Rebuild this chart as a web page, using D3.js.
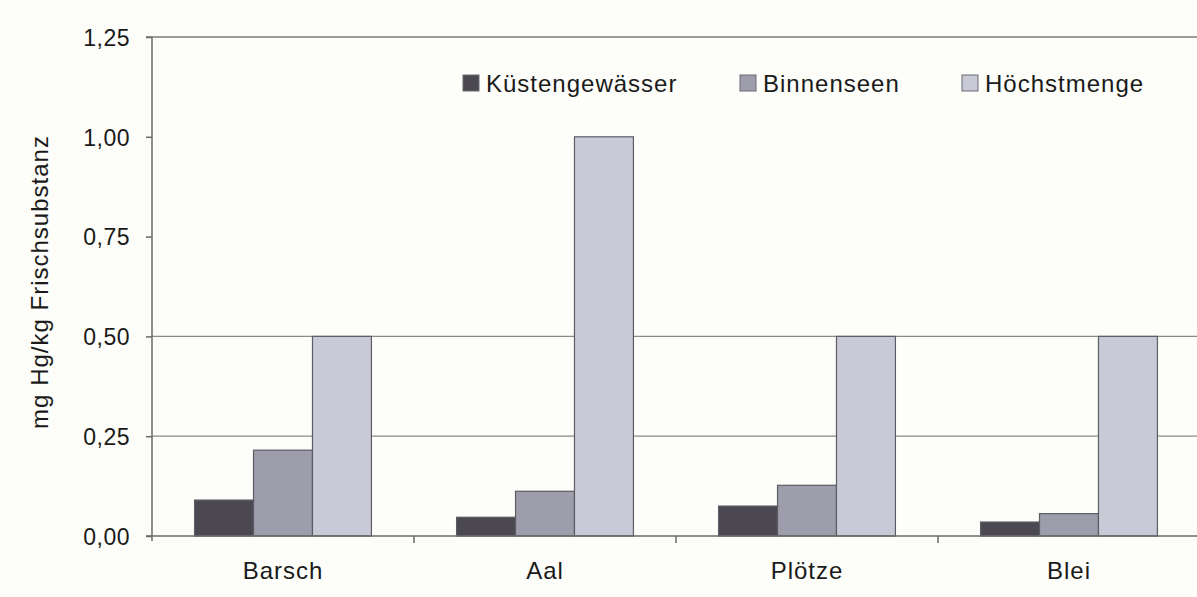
<!DOCTYPE html>
<html lang="de">
<head>
  <meta charset="utf-8">
  <title>Quecksilber in Fischen</title>
  <script src="https://cdn.jsdelivr.net/npm/d3@7"></script>
  <style>
    body {
      margin: 0;
      background: #fdfdf9;
      overflow: hidden;
    }

    text {
      font-family: "Liberation Sans", Arial, sans-serif;
      fill: #1a1a1a;
      letter-spacing: 1px;
    }

    .grid line {
      stroke: #8a8a8a;
      stroke-width: 1.2px;
    }

    .axis path, .axis line {
      stroke: #6a6a6a;
      stroke-width: 1.5px;
    }
  </style>
</head>
<body>
  <svg width="1197" height="597"></svg>
  <script>

  // data
  var fische = ["Barsch", "Aal", "Plötze", "Blei"];
  var serien = ["Küstengewässer", "Binnenseen", "Höchstmenge"];
  var kuestengewaesser = [0.09, 0.047, 0.075, 0.035];
  var binnenseen = [0.215, 0.112, 0.127, 0.056];
  var hoechstmenge = [0.5, 1.0, 0.5, 0.5];
  var yTicks = [0, 0.25, 0.5, 0.75, 1.0, 1.25];
  var gridTicks = [0.25, 0.5];
  var farben = ["#4b4852", "#9e9dac", "#c9cad7"];

  var werte = [kuestengewaesser, binnenseen, hoechstmenge];

  var svg = d3.select("svg"),
      plotLeft = 152, plotRight = 1200,
      plotTop = 37, plotBottom = 536;

  var x = d3.scaleBand()
      .domain(fische)
      .range([plotLeft, plotRight]);

  var x1 = d3.scaleBand()
      .domain(serien)
      .range([0, x.bandwidth() * 0.675]);

  var y = d3.scaleLinear()
      .domain([0, 1.25])
      .range([plotBottom, plotTop]);

  var fmt = function(d) { return d3.format(".2f")(d).replace(".", ","); };

  // gridlines (only the ones visible in the scan)
  svg.append("g")
      .attr("class", "grid")
    .selectAll("line")
    .data(gridTicks)
    .enter().append("line")
      .attr("x1", plotLeft)
      .attr("x2", plotRight)
      .attr("y1", function(d) { return y(d); })
      .attr("y2", function(d) { return y(d); });

  // top border of the plot area
  svg.append("line")
      .attr("x1", plotLeft - 6)
      .attr("x2", plotRight)
      .attr("y1", y(1.25))
      .attr("y2", y(1.25))
      .attr("stroke", "#7a7a7a")
      .attr("stroke-width", 1.5);

  // bars
  var gruppen = svg.append("g")
    .selectAll("g")
    .data(fische)
    .enter().append("g")
      .attr("transform", function(d) {
        return "translate(" + (x(d) + (x.bandwidth() - x1.range()[1]) / 2) + ",0)";
      });

  gruppen.selectAll("rect")
    .data(function(d, i) {
      return serien.map(function(s, j) { return { serie: s, wert: werte[j][i], idx: j }; });
    })
    .enter().append("rect")
      .attr("x", function(d) { return x1(d.serie); })
      .attr("y", function(d) { return y(d.wert); })
      .attr("width", x1.bandwidth())
      .attr("height", function(d) { return y(0) - y(d.wert); })
      .attr("fill", function(d) { return farben[d.idx]; })
      .attr("stroke", "#5c5c64")
      .attr("stroke-width", 1.2);

  // y axis
  var yAxis = svg.append("g")
      .attr("class", "axis")
      .attr("transform", "translate(" + plotLeft + ",0)")
      .call(d3.axisLeft(y).tickValues(yTicks).tickFormat(fmt).tickSize(6).tickPadding(16));

  yAxis.select(".domain").attr("d", "M0," + plotTop + "V" + (plotBottom + 5));
  yAxis.selectAll("text")
      .style("font-size", "23px")
      .style("letter-spacing", "0.5px")
      .attr("dy", "0.36em");

  // x axis: ticks between the categories
  var xAxis = svg.append("g")
      .attr("class", "axis")
      .attr("transform", "translate(0," + plotBottom + ")");

  xAxis.append("line")
      .attr("x1", plotLeft - 6)
      .attr("x2", plotRight);

  xAxis.selectAll("line.tick")
    .data(fische.slice(1))
    .enter().append("line")
      .attr("class", "tick")
      .attr("x1", function(d) { return x(d); })
      .attr("x2", function(d) { return x(d); })
      .attr("y1", 0)
      .attr("y2", 7);

  xAxis.selectAll("text")
    .data(fische)
    .enter().append("text")
      .attr("x", function(d) { return x(d) + x.bandwidth() / 2; })
      .attr("y", 43)
      .attr("text-anchor", "middle")
      .style("font-size", "24px")
      .text(function(d) { return d; });

  // y label
  svg.append("text")
      .attr("transform", "translate(48,282) rotate(-90)")
      .attr("text-anchor", "middle")
      .style("font-size", "24px")
      .text("mg Hg/kg Frischsubstanz");

  // legend
  var legendeX = [463, 740, 962];
  var legende = svg.append("g")
    .selectAll("g")
    .data(serien)
    .enter().append("g")
      .attr("transform", function(d, i) { return "translate(" + legendeX[i] + ",75)"; });

  legende.append("rect")
      .attr("width", 16)
      .attr("height", 16)
      .attr("fill", function(d, i) { return farben[i]; })
      .attr("stroke", "#6a6a72")
      .attr("stroke-width", 1);

  legende.append("text")
      .attr("x", 23)
      .attr("y", 17)
      .style("font-size", "24px")
      .text(function(d) { return d; });

  </script>
</body>
</html>
